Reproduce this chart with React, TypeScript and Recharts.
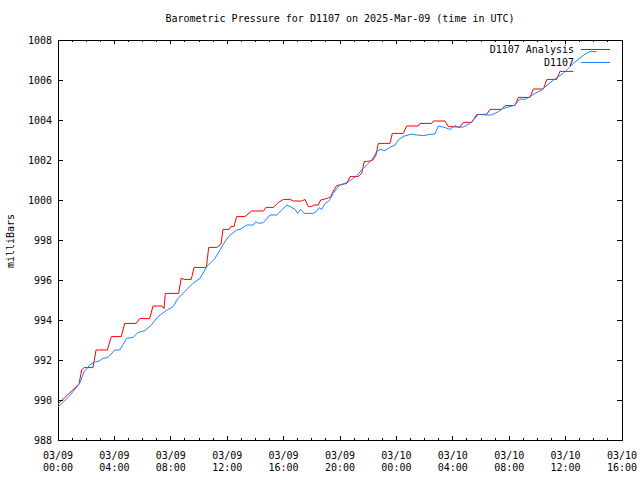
import React from 'react';
import { LineChart, Line, XAxis, YAxis, ReferenceArea, Legend } from 'recharts';

// hours since 03/09 00:00 UTC, pressure in mb
const OBS_HOURS = [
  0, 0.71, 1.54, 1.84, 2.25, 2.57, 2.84, 3.19, 3.55, 4.02, 4.38, 4.87, 5.32, 5.67, 6.17, 6.62,
  7.09, 7.68, 8.16, 8.51, 8.99, 9.57, 10.07, 10.55, 11.13, 11.49, 11.84, 12.2, 12.67, 12.91,
  13.38, 13.85, 14.02, 14.21, 14.56, 15.04, 15.51, 15.87, 16.22, 16.57, 16.81, 17.0, 17.21,
  17.45, 18.11, 18.39, 18.53, 18.7, 18.94, 19.24, 19.52, 19.77, 20.0, 20.48, 20.83, 21.18,
  21.54, 21.89, 22.25, 22.6, 22.84, 23.19, 23.55, 23.9, 24.13, 24.49, 25.09, 25.44, 25.91,
  26.38, 26.74, 26.97, 27.45, 27.8, 28.16, 28.39, 28.75, 29.22, 29.57, 29.81, 30.4, 30.76,
  31.23, 31.58, 32.06, 32.41, 32.77, 33.12, 33.48, 33.83, 34.31, 34.77, 35.37, 35.84, 36.19,
  36.55, 37.02, 37.38, 37.73, 38.21,
];
const OBS_MB = [
  989.65, 990.12, 990.83, 991.4, 991.75, 991.9, 991.92, 992.08, 992.13, 992.5, 992.5, 993.08,
  993.13, 993.37, 993.47, 993.75, 994.17, 994.47, 994.67, 995.08, 995.42, 995.83, 996.08,
  996.67, 997.08, 997.5, 997.92, 998.25, 998.5, 998.53, 998.75, 998.75, 998.92, 998.83,
  998.87, 999.25, 999.25, 999.5, 999.75, 999.63, 999.53, 999.33, 999.53, 999.33, 999.33,
  999.47, 999.62, 999.53, 999.83, 999.97, 1000.33, 1000.58, 1000.75, 1000.87, 1001.03,
  1001.2, 1001.5, 1001.75, 1002.0, 1002.42, 1002.53, 1002.47, 1002.63, 1002.75, 1003.0,
  1003.18, 1003.3, 1003.25, 1003.22, 1003.28, 1003.3, 1003.7, 1003.62, 1003.53, 1003.72,
  1003.63, 1003.65, 1003.83, 1004.08, 1004.28, 1004.25, 1004.25, 1004.42, 1004.58, 1004.67,
  1004.75, 1005.05, 1005.03, 1005.17, 1005.33, 1005.5, 1005.8, 1006.12, 1006.33, 1006.58,
  1006.83, 1007.1, 1007.3, 1007.42, 1007.42,
];

const ANALYSIS_HOURS = [
  0, 1.49, 1.68, 1.84, 2.48, 2.7, 3.5, 3.78, 4.49, 4.73, 5.55, 5.79, 6.5, 6.74, 7.38, 7.52,
  7.61, 8.56, 8.74, 8.94, 9.45, 9.65, 10.52, 10.69, 11.26, 11.49, 11.56, 11.7, 12.15, 12.27,
  12.48, 12.67, 13.26, 13.48, 13.74, 14.57, 14.75, 15.27, 15.62, 15.98, 16.45, 16.69, 17.28,
  17.52, 17.75, 17.99, 18.16, 18.46, 18.63, 19.1, 19.34, 19.57, 19.77, 20.48, 20.71, 21.3,
  21.54, 21.72, 22.13, 22.34, 22.55, 22.72, 23.55, 23.71, 24.49, 24.73, 25.55, 25.67, 26.5,
  26.62, 27.45, 27.68, 28.51, 28.75, 29.34, 29.7, 30.4, 30.64, 31.47, 31.7, 32.41, 32.65,
  33.48, 33.71, 34.43, 34.67, 35.37, 35.6, 36.55,
];
const ANALYSIS_MB = [
  989.8, 990.8, 991.5, 991.62, 991.62, 992.5, 992.5, 993.17, 993.17, 993.83, 993.83, 994.07,
  994.07, 994.7, 994.7, 994.57, 995.33, 995.33, 996.1, 996.03, 996.03, 996.63, 996.63,
  997.63, 997.63, 997.75, 997.78, 998.53, 998.53, 998.67, 998.67, 999.17, 999.17, 999.3,
  999.45, 999.45, 999.63, 999.63, 999.87, 1000.03, 1000.03, 999.95, 999.95, 1000.03, 999.67,
  999.67, 999.75, 999.75, 1000.0, 1000.08, 1000.17, 1000.5, 1000.72, 1000.83, 1001.17,
  1001.17, 1001.33, 1001.92, 1001.95, 1002.0, 1002.25, 1002.83, 1002.83, 1003.33, 1003.33,
  1003.7, 1003.7, 1003.83, 1003.83, 1003.95, 1003.95, 1003.67, 1003.65, 1003.88, 1003.88,
  1004.28, 1004.28, 1004.53, 1004.53, 1004.72, 1004.72, 1005.13, 1005.13, 1005.55, 1005.55,
  1006.03, 1006.03, 1006.43, 1006.43,
];

const SERIES_NAMES = ['D1107 Analysis', 'D1107'];
const MAJOR_HOURS = [0, 4, 8, 12, 16, 20, 24, 28, 32, 36, 40];
const TICK_DATES = ['03/09', '03/09', '03/09', '03/09', '03/09', '03/09', '03/10', '03/10', '03/10', '03/10', '03/10'];
const TICK_TIMES = ['00:00', '04:00', '08:00', '12:00', '16:00', '20:00', '00:00', '04:00', '08:00', '12:00', '16:00'];
const HOUR_TICKS = Array.from({ length: 41 }, (_, i) => i);
const Y_TICKS = [988, 990, 992, 994, 996, 998, 1000, 1002, 1004, 1006, 1008];

const obsData = OBS_HOURS.map((t, i) => ({ t, mb: OBS_MB[i] }));
const analysisData = ANALYSIS_HOURS.map((t, i) => ({ t, mb: ANALYSIS_MB[i] }));

const PLOT = { left: 58, right: 622, top: 40, bottom: 440 };
const FONT = "'DejaVu Sans Mono', monospace";

const renderXTick = (props: any) => {
  const { x, payload } = props;
  const idx = MAJOR_HOURS.indexOf(payload.value);
  const len = idx >= 0 ? 4 : 2;
  return (
    <g>
      <line x1={x} x2={x} y1={PLOT.bottom} y2={PLOT.bottom - len} stroke="#000" shapeRendering="crispEdges" />
      <line x1={x} x2={x} y1={PLOT.top} y2={PLOT.top + len} stroke="#000" shapeRendering="crispEdges" />
      {idx >= 0 && (
        <>
          <text x={x} y={PLOT.bottom + 15} textAnchor="middle" dominantBaseline="central" fontSize={10} fontFamily={FONT} fill="#000">
            {TICK_DATES[idx]}
          </text>
          <text x={x} y={PLOT.bottom + 27} textAnchor="middle" dominantBaseline="central" fontSize={10} fontFamily={FONT} fill="#000">
            {TICK_TIMES[idx]}
          </text>
        </>
      )}
    </g>
  );
};

const renderYTick = (props: any) => {
  const { y, payload } = props;
  return (
    <g>
      <line x1={PLOT.left} x2={PLOT.left + 5} y1={y} y2={y} stroke="#000" shapeRendering="crispEdges" />
      <line x1={PLOT.right} x2={PLOT.right - 5} y1={y} y2={y} stroke="#000" shapeRendering="crispEdges" />
      <text x={PLOT.left - 6} y={y} textAnchor="end" dominantBaseline="central" fontSize={10} fontFamily={FONT} fill="#000">
        {payload.value}
      </text>
    </g>
  );
};

// keep the plotting order (analysis first) instead of recharts' alphabetical sort
const renderLegend = (props: any) => {
  const items = [...(props.payload || [])].sort(
    (a: any, b: any) => SERIES_NAMES.indexOf(a.value) - SERIES_NAMES.indexOf(b.value)
  );
  return (
    <div style={{ fontFamily: FONT, fontSize: 10, color: '#000' }}>
      {items.map((e: any) => (
        <div key={e.value} style={{ display: 'flex', justifyContent: 'flex-end', alignItems: 'center', height: 13 }}>
          <span style={{ lineHeight: '13px', whiteSpace: 'pre' }}>{e.value}</span>
          <span style={{ display: 'inline-block', width: 29, height: 0, borderTop: `1px solid ${e.color}`, marginLeft: 7 }} />
        </div>
      ))}
    </div>
  );
};

export default function App() {
  return (
    <div style={{ position: 'absolute', left: 0, top: 0, width: 640, height: 480, background: '#fff' }}>
      <div
        style={{
          position: 'absolute', left: 140, top: 13, width: 400, height: 12, lineHeight: '12px',
          textAlign: 'center', fontFamily: FONT, fontSize: 10, color: '#000', whiteSpace: 'pre', zIndex: 2,
        }}
      >
        Barometric Pressure for D1107 on 2025-Mar-09 (time in UTC)
      </div>
      <div
        style={{
          position: 'absolute', left: -29, top: 235, width: 80, height: 12, lineHeight: '12px',
          textAlign: 'center', fontFamily: FONT, fontSize: 10, color: '#000', transform: 'rotate(-90deg)', zIndex: 2,
        }}
      >
        milliBars
      </div>
      <LineChart width={640} height={480} margin={{ top: 40, right: 18, bottom: 0, left: 8 }}>
        <XAxis
          type="number"
          dataKey="t"
          domain={[0, 40]}
          ticks={HOUR_TICKS}
          interval={0}
          height={40}
          axisLine={false}
          tickLine={false}
          tick={renderXTick}
          allowDataOverflow
        />
        <YAxis
          type="number"
          domain={[988, 1008]}
          ticks={Y_TICKS}
          interval={0}
          width={50}
          axisLine={false}
          tickLine={false}
          tick={renderYTick}
          allowDataOverflow
        />
        <ReferenceArea
          x1={0}
          x2={40}
          y1={988}
          y2={1008}
          fill="none"
          stroke="#000"
          strokeWidth={1}
          fillOpacity={0}
          ifOverflow="visible"
          shapeRendering="crispEdges"
        />
        <Line
          data={analysisData}
          dataKey="mb"
          name="D1107 Analysis"
          type="linear"
          stroke="#ff0000"
          strokeWidth={1}
          dot={false}
          isAnimationActive={false}
        />
        <Line
          data={obsData}
          dataKey="mb"
          name="D1107"
          type="linear"
          stroke="#1a88ff"
          strokeWidth={1}
          dot={false}
          isAnimationActive={false}
        />
        <Legend
          layout="vertical"
          align="center"
          verticalAlign="middle"
          content={renderLegend}
          wrapperStyle={{ top: 43, left: 440, width: 170, height: 26 }}
        />
      </LineChart>
    </div>
  );
}
